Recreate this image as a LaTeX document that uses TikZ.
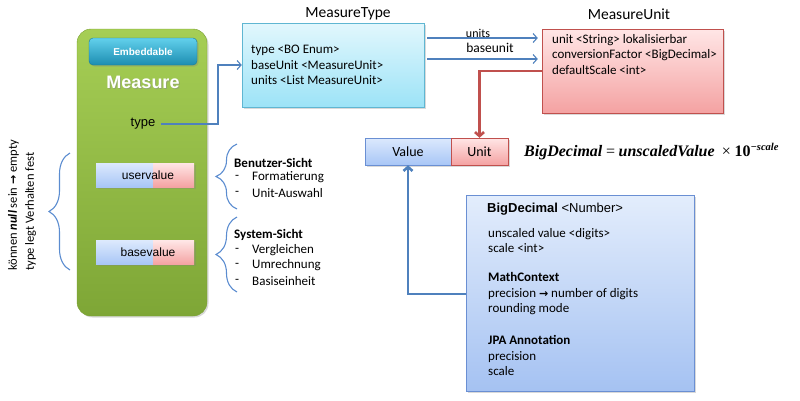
\documentclass[tikz,border=0pt]{standalone}
\usepackage{fontspec}
\setmainfont{Carlito}
\newfontfamily\arialf{Liberation Sans}
\newfontfamily\serff{Liberation Serif}
\newfontfamily\symf{DejaVu Sans}
\usetikzlibrary{arrows.meta,shadows,decorations.pathreplacing,calc}
\definecolor{gTop}{HTML}{A6CE55}
\definecolor{gBot}{HTML}{7EA636}
\definecolor{gBrd}{HTML}{7AA032}
\definecolor{embTop}{HTML}{62D0EC}
\definecolor{embBot}{HTML}{1C8DB1}
\definecolor{embBrd}{HTML}{1A7A99}
\definecolor{mtTop}{HTML}{E2F7FD}
\definecolor{mtBot}{HTML}{9CE3F7}
\definecolor{mtBrd}{HTML}{5FB6D2}
\definecolor{muTop}{HTML}{FFE6E6}
\definecolor{muBot}{HTML}{F4A2A2}
\definecolor{redBrd}{HTML}{C0504D}
\definecolor{valTop}{HTML}{DCE9FD}
\definecolor{valBot}{HTML}{A8C6F6}
\definecolor{valBrd}{HTML}{6A8FD3}
\definecolor{bdTop}{HTML}{E3EDFC}
\definecolor{bdBot}{HTML}{A5C2F2}
\definecolor{arrBlue}{HTML}{4F81BD}
\definecolor{brBlue}{HTML}{5B8CD0}
\newcommand\myformula{{\serff\bfseries\itshape BigDecimal}~{\serff =}~{\serff\bfseries\itshape unscaledValue}~~{\serff ×}~{\serff\bfseries 10}\raisebox{6pt}{\serff\bfseries\itshape\fontsize{10.5}{11}\selectfont −scale}}
\newcommand\myarrow{{\symf\bfseries\fontsize{11}{13}\selectfont →}}
\begin{document}
\begin{tikzpicture}[x=1pt,y=-1pt,
  shad/.style={drop shadow={opacity=0.3,shadow xshift=1.5pt,shadow yshift=-1.5pt}},
  mbox/.style={rounded corners=14pt,draw=gBrd,top color=gTop,bottom color=gBot,shad},
  embbox/.style={rounded corners=4pt,draw=embBrd,top color=embTop,bottom color=embBot,shad,
     text=white,font=\arialf\bfseries\fontsize{10}{12}\selectfont},
  mtbox/.style={draw=mtBrd,top color=mtTop,bottom color=mtBot,shad},
  mubox/.style={draw=redBrd,top color=muTop,bottom color=muBot,shad},
  valbox/.style={draw=valBrd,top color=valTop,bottom color=valBot,shad,font=\fontsize{14}{16}\selectfont},
  unitbox/.style={draw=redBrd,top color=muTop,bottom color=muBot,shad,font=\fontsize{14}{16}\selectfont},
  bdbox/.style={draw=valBrd,top color=bdTop,bottom color=bdBot,shad},
  splitbox/.style={minimum width=98pt,minimum height=24pt,inner sep=0pt,shad,
     font=\arialf\fontsize{12}{14}\selectfont,
     path picture={
       \shade[top color=valTop,bottom color=valBot] (path picture bounding box.south west) rectangle ([xshift=-41pt]path picture bounding box.north east);
       \shade[top color=muTop,bottom color=muBot] ([xshift=-41pt]path picture bounding box.south east) rectangle (path picture bounding box.north east);}},
  txt/.style={font=\fontsize{13}{15.5}\selectfont,align=left,inner sep=0pt},
  bhead/.style={font=\bfseries\fontsize{13}{15.5}\selectfont,align=left,inner sep=0pt},
  thinarr/.style={draw=arrBlue,line width=1.1pt,-{Straight Barb[length=4pt,width=9pt]}},
  thickred/.style={draw=redBrd,line width=2.6pt,-{Straight Barb[length=4pt,width=9pt]}},
  thickblue/.style={draw=arrBlue,line width=2.6pt,-{Straight Barb[length=4pt,width=9pt]}},
  bracestyle/.style={draw=brBlue,line width=1.1pt,decorate,decoration={brace,amplitude=21pt}}
]
\useasboundingbox (0,0) rectangle (800,400);

% Measure entity
\node[mbox,minimum width=130pt,minimum height=287pt] (meas) at (142,172.5) {};
\node[embbox,minimum width=108pt,minimum height=27pt] (emb) at (143,51.5) {Embeddable};
\node[font=\arialf\bfseries\fontsize{18}{20}\selectfont,text=black!45,opacity=0.5] (mshadow) at (144,83) {Measure};
\node[font=\arialf\bfseries\fontsize{18}{20}\selectfont,text=white] (mtitle) at (143,82) {Measure};
\node[font=\arialf\fontsize{13}{15}\selectfont,inner sep=0pt,minimum width=36pt] (typ) at (143,124) {type};
\node[splitbox] (uv) at (145,175) {\hspace{6pt}uservalue};
\node[splitbox] (bv) at (145,252.5) {\hspace{6pt}basevalue};

% left brace and rotated note
\draw[bracestyle] (70,270) -- (70,153);
\node[rotate=90,anchor=north west,align=left,inner sep=0pt,font=\fontsize{12.5}{17}\selectfont] (note) at (8,271) {können \textbf{\textit{null}} sein \myarrow{} empty\\type legt Verhalten fest};

% right braces and views
\draw[bracestyle] (237,209) -- (237,144);
\draw[bracestyle] (237,292) -- (237,217);
\node[bhead,anchor=west] (bs) at (234,163) {Benutzer-Sicht};
\node[txt,anchor=west] (bs1d) at (235,177.5) {-};
\node[txt,anchor=west] (bs1) at (252,177.5) {Formatierung};
\node[txt,anchor=west] (bs2d) at (235,193) {-};
\node[txt,anchor=west] (bs2) at (252,193) {Unit-Auswahl};
\node[bhead,anchor=west] (ss) at (234,234.5) {System-Sicht};
\node[txt,anchor=west] (ss1d) at (235,250) {-};
\node[txt,anchor=west] (ss1) at (252,250) {Vergleichen};
\node[txt,anchor=west] (ss2d) at (235,265.5) {-};
\node[txt,anchor=west] (ss2) at (252,265.5) {Umrechnung};
\node[txt,anchor=west] (ss3d) at (235,281) {-};
\node[txt,anchor=west] (ss3) at (252,281) {Basiseinheit};

% MeasureType
\node[mtbox,minimum width=182pt,minimum height=84pt] (mt) at (333,65) {};
\node[font=\fontsize{15.5}{17}\selectfont] (mtl) at (348,14) {MeasureType};
\node[txt,anchor=west] (mtt) at (251,65) {type <BO Enum>\\baseUnit <MeasureUnit>\\units <List MeasureUnit>};

% MeasureUnit
\node[mubox,minimum width=181pt,minimum height=84pt] (mu) at (632.5,71) {};
\node[font=\fontsize{15.5}{17}\selectfont] (mul) at (629,14) {MeasureUnit};
\node[txt,anchor=west] (mut) at (552,54.5) {unit <String> lokalisierbar\\conversionFactor <BigDecimal>\\defaultScale <int>};

% Value / Unit
\node[valbox,minimum width=86pt,minimum height=27pt] (val) at (408,151.5) {Value};
\node[unitbox,minimum width=57pt,minimum height=27pt] (unit) at (479.5,151.5) {Unit};
\node[anchor=west,inner sep=0pt,font=\fontsize{16}{18}\selectfont] (frm) at (524,152) {\myformula};

% BigDecimal
\node[bdbox,minimum width=228pt,minimum height=196pt] (bd) at (580,293) {};
\node[txt,anchor=west,font=\arialf\fontsize{13}{15}\selectfont] (bdh) at (487,209) {\textbf{BigDecimal} <Number>};
\node[txt,anchor=west] (bd1) at (488,240.5) {unscaled value <digits>\\scale <int>};
\node[txt,anchor=west] (bd2) at (488,294) {\textbf{MathContext}\\precision \myarrow{} number of digits\\rounding mode};
\node[txt,anchor=west] (bd3) at (488,355.5) {\textbf{JPA Annotation}\\precision\\scale};

% connectors
\coordinate (tbend) at (218,124);
\draw[thinarr] (typ.east) -- (tbend) |- (mt.west);
\coordinate (uy) at (0,38);
\coordinate (by) at (0,59);
\draw[thinarr,shorten <=3pt,shorten >=4pt] (mt.east |- uy) -- (mu.west |- uy);
\draw[thinarr,shorten <=3pt,shorten >=4pt] (mt.east |- by) -- (mu.west |- by);
\node[font=\fontsize{12}{14}\selectfont,inner sep=0pt] (ul) at (478,33) {units};
\node[font=\fontsize{13.5}{15}\selectfont,inner sep=0pt] (bl) at (490,48) {baseunit};
\draw[thickred] (mu.west) -| (unit.north);
\draw[thickblue] ([yshift=-1pt]bd.west) -| (val.south);
\end{tikzpicture}
\end{document}
